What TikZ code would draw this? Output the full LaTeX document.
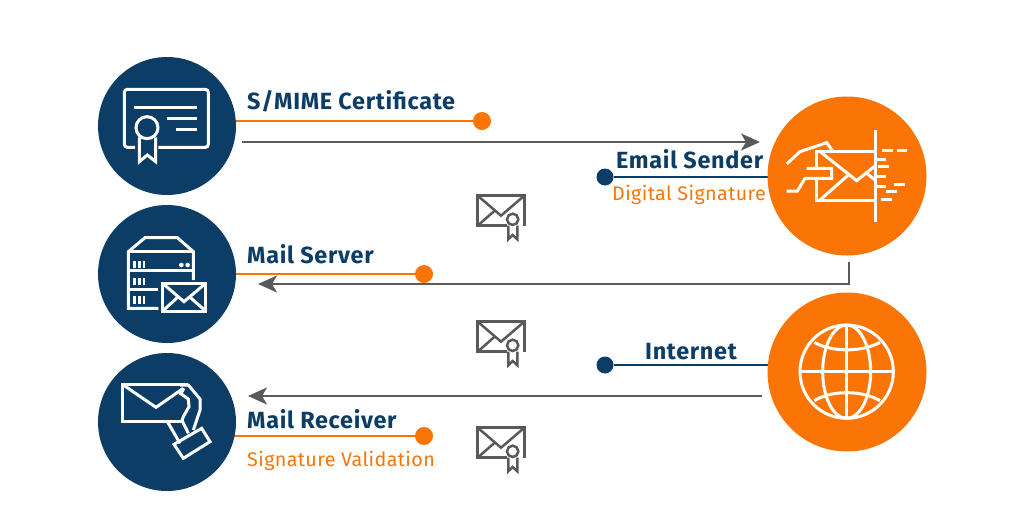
\documentclass[tikz,border=0pt]{standalone}
\usepackage{fontspec}
\setmainfont{Fira Sans}
\newfontfamily\headfont[LetterSpace=3.0]{Fira Sans}
\newfontfamily\subfont[LetterSpace=2.0]{Fira Sans}
\usetikzlibrary{arrows.meta,backgrounds}
\definecolor{navy}{HTML}{0B3D66}
\definecolor{orng}{HTML}{FB7506}
\definecolor{grayl}{HTML}{58595B}
\tikzset{
 navydisc/.style={circle,fill=navy,minimum size=138pt,inner sep=0pt},
 orangedisc/.style={circle,fill=orng,minimum size=159pt,inner sep=0pt},
 odot/.style={circle,fill=orng,minimum size=18pt,inner sep=0pt},
 ndot/.style={circle,fill=navy,minimum size=17pt,inner sep=0pt},
 oline/.style={draw=orng,line width=2.2pt},
 nline/.style={draw=navy,line width=2.2pt},
 gline/.style={draw=grayl,line width=2pt,-{Stealth[length=19pt,width=17pt,inset=5pt]}},
 head/.style={anchor=base west,inner sep=0pt,text=navy,font=\fontsize{23.4}{26}\selectfont\headfont\bfseries},
 sub/.style={anchor=base west,inner sep=0pt,text=orng,font=\fontsize{19.7}{24}\selectfont\subfont},
 icon/.style={draw=white,line width=3pt,line join=miter},
 zoomed/.style={shift={#1},scale=1/3},
 mini/.style={draw=grayl,line width=2.5pt},
}
\newcommand{\minienv}[2]{%
 \begin{scope}[shift={(#1,#2)},scale=1/3]
  \draw[mini] (125,122) -- (38,122) -- (38,32) -- (178,32) -- (178,122);
  \draw[mini] (38,32) -- (108,92) -- (178,32);
  \draw[mini] (38,122) -- (90,76);
  \draw[mini] (143,103) circle (17);
  \draw[mini] (130,122) -- (130,163) -- (143,150) -- (157,163) -- (157,122);
 \end{scope}}
\begin{document}
\begin{tikzpicture}[x=1pt,y=-1pt]
\useasboundingbox (0,0) rectangle (1024,512);
% discs
\node[navydisc] (cert) at (167,126) {};
\node[navydisc] (server) at (167,274) {};
\node[navydisc] (receiver) at (167,422) {};
\node[orangedisc] (sender) at (847,176) {};
\node[orangedisc] (internet) at (847,372) {};
% dots
\node[odot] (d1) at (482,121) {};
\node[odot] (d2) at (424,274) {};
\node[odot] (d3) at (424,436) {};
\node[ndot] (d4) at (605,177) {};
\node[ndot] (d5) at (605,365) {};
% free ends
\coordinate (a1s) at (242,142);
\coordinate (a1e) at (760,142);
\coordinate (a2s) at (849,262);
\coordinate (a2e) at (258,284);
\coordinate (a3s) at (762,396);
\coordinate (a3e) at (248,396);
% connectors
\begin{scope}[on background layer]
\draw[oline] (d1) -- (d1 -| cert);
\draw[oline] (d2) -- (d2 -| server);
\draw[oline] (d3) -- (d3 -| receiver);
\draw[nline] (d4) -- (d4 -| sender);
\draw[nline] (d5) -- (d5 -| internet);
\end{scope}
\draw[gline] (a1s) -- (a1e);
\draw[gline] (a2s) |- (a2e);
\draw[gline] (a3s) -- (a3e);
% labels
\node[head] (t1) at (247,109) {S/MIME Certificate};
\node[head] (t2) at (247,263) {Mail Server};
\node[head] (t3) at (247,428) {Mail Receiver};
\node[head] (t4) at (616,168) {Email Sender};
\node[head] (t5) at (645,359) {Internet};
\node[sub] (t6) at (612,200) {Digital Signature};
\node[sub] (t7) at (247,466) {Signature Validation};
% certificate icon
\begin{scope}[zoomed={(90,50)}]
 \draw[icon,rounded corners=3pt] (135,292) -- (103,292) -- (103,118) -- (355,118) -- (355,292) -- (205,292);
 \draw[icon] (132,172) -- (322,172) (230,204) -- (322,204) (258,237) -- (322,237);
 \draw[icon] (171,233) circle (33);
 \draw[icon] (148,262) -- (148,335) -- (172,315) -- (197,335) -- (197,262);
\end{scope}
% server icon
\begin{scope}[zoomed={(90,200)}]
 \draw[icon] (205,325) -- (115,325) -- (115,155) -- (165,113) -- (262,113) -- (310,155) -- (310,240);
 \draw[icon] (115,155) -- (310,155) (115,210) -- (310,210) (115,268) -- (205,268);
 \foreach \y in {193,245,300}{
  \foreach \x in {134,148,162}{\fill[white] (\x-4,\y-11) rectangle (\x+4,\y+11);}}
 \fill[white] (274,195) circle (7) (293,195) circle (7);
 \draw[icon] (218,250) rectangle (347,333);
 \draw[icon] (218,250) -- (282,305) -- (347,250) (218,333) -- (265,290) (347,333) -- (298,290);
\end{scope}
% receiver icon
\begin{scope}[zoomed={(90,350)}]
 \draw[icon] (283,213) -- (97,213) -- (97,103) -- (295,103);
 \draw[icon] (97,103) -- (198,172) -- (280,115);
\end{scope}
\begin{scope}[zoomed={(160,375)}]
 \draw[icon] (60,30) -- (85,30) -- (120,72) -- (120,105) -- (100,165);
 \draw[icon] (72,40) -- (62,56) -- (85,72) -- (87,95) -- (70,125) -- (66,136);
 \draw[icon] (20,136) -- (60,205);
 \draw[icon] (66,136) -- (85,175);
 \draw[icon] (42,208) -- (125,160) -- (150,200) -- (70,250) -- cycle;
\end{scope}
% sender icon
\begin{scope}[zoomed={(760,90)}]
 \draw[icon] (345,120) -- (345,397);
 \draw[icon] (345,183) -- (170,183) -- (170,330) -- (345,330);
 \draw[icon] (178,183) -- (290,272) -- (345,228);
 \draw[icon] (180,330) -- (265,255) (320,250) -- (345,270);
 \draw[icon] (80,222) -- (120,185) -- (200,158) -- (218,183);
 \fill[orng] (140,235) rectangle (215,265);
 \draw[icon] (140,235) -- (215,235) -- (215,265) -- (135,265) -- (112,303) -- (80,303);
 \draw[icon] (367,181)--(400,181) (410,181)--(442,181) (345,208)--(378,208) (355,228)--(388,228)
   (345,258)--(378,258) (345,288)--(378,288) (402,282)--(435,282) (378,305)--(412,305) (362,328)--(396,328);
\end{scope}
% globe icon
\begin{scope}[zoomed={(760,285)}]
 \draw[icon] (260,260) circle (140);
 \draw[icon] (260,260) ellipse (72 and 140);
 \draw[icon] (260,120) -- (260,400) (120,260) -- (400,260);
 \draw[icon] (163,172) .. controls (215,202) and (305,202) .. (360,172);
 \draw[icon] (163,347) .. controls (215,315) and (305,315) .. (360,347);
\end{scope}
% mini envelopes
\minienv{465}{185}
\minienv{465}{311}
\minienv{465}{417}
\end{tikzpicture}
\end{document}
